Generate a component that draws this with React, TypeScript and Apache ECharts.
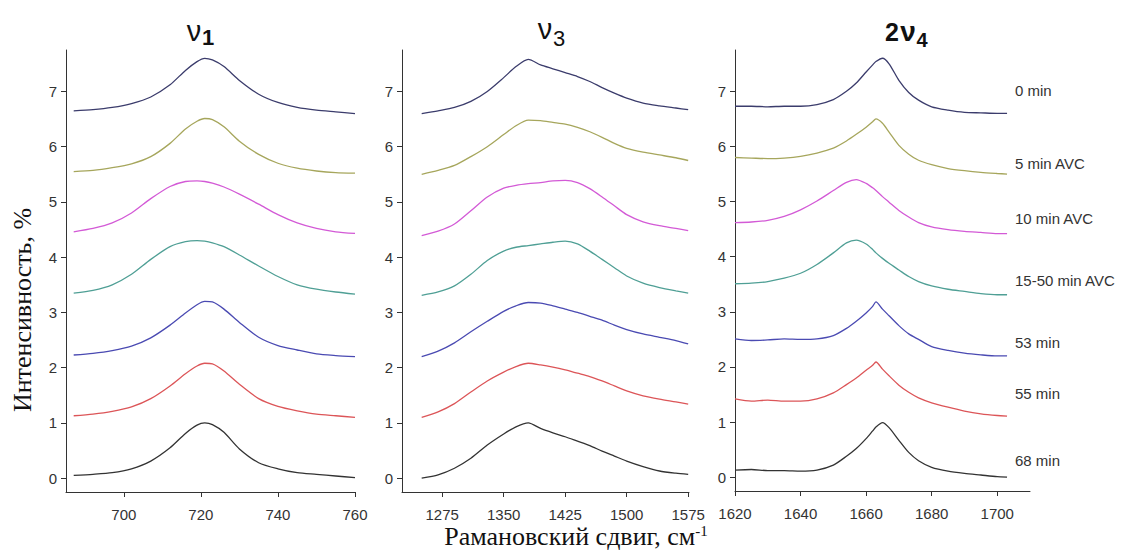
import React, { useEffect, useRef } from "react";
import * as echarts from "echarts";

// ---- categories / labels ----
const seriesNames = ["0 min", "5 min AVC", "10 min AVC", "15-50 min AVC", "53 min", "55 min", "68 min"];
const seriesColors = ["#3b3c6c", "#a6a65c", "#d35ad6", "#4f9f95", "#4a4ab2", "#dc5558", "#333333"];
const yTicks = [0, 1, 2, 3, 4, 5, 6, 7];

// ---- panel ν1 ----
const nu1X = [687, 692, 697, 702, 707, 712, 716, 719, 721, 723, 726, 730, 735, 740, 745, 750, 755, 760];
const nu1Ticks = [700, 720, 740, 760];
const nu1_0min = [6.65, 6.67, 6.71, 6.78, 6.9, 7.12, 7.38, 7.54, 7.6, 7.57, 7.45, 7.2, 6.95, 6.8, 6.71, 6.66, 6.63, 6.6];
const nu1_5min = [5.55, 5.57, 5.62, 5.69, 5.82, 6.06, 6.32, 6.46, 6.51, 6.49, 6.36, 6.1, 5.86, 5.7, 5.61, 5.56, 5.53, 5.52];
const nu1_10min = [4.46, 4.52, 4.62, 4.8, 5.06, 5.28, 5.37, 5.38, 5.37, 5.34, 5.27, 5.14, 4.96, 4.77, 4.62, 4.52, 4.46, 4.43];
const nu1_15min = [3.35, 3.4, 3.5, 3.69, 3.96, 4.19, 4.28, 4.3, 4.29, 4.26, 4.19, 4.04, 3.84, 3.65, 3.5, 3.42, 3.37, 3.33];
const nu1_53min = [2.23, 2.26, 2.31, 2.39, 2.54, 2.77, 2.99, 3.14, 3.2, 3.19, 3.06, 2.82, 2.55, 2.4, 2.32, 2.25, 2.22, 2.2];
const nu1_55min = [1.13, 1.16, 1.21, 1.29, 1.44, 1.67, 1.89, 2.03, 2.08, 2.07, 1.94, 1.7, 1.44, 1.3, 1.22, 1.16, 1.13, 1.1];
const nu1_68min = [0.05, 0.07, 0.1, 0.17, 0.31, 0.55, 0.81, 0.96, 1.0, 0.97, 0.83, 0.53, 0.28, 0.17, 0.1, 0.07, 0.04, 0.01];

// ---- panel ν3 ----
const nu3X = [1250, 1270, 1290, 1310, 1330, 1350, 1365, 1380, 1395, 1410, 1425, 1440, 1455, 1470, 1485, 1500, 1520, 1540, 1560, 1575];
const nu3Ticks = [1275, 1350, 1425, 1500, 1575];
const nu3_0min = [6.6, 6.65, 6.71, 6.82, 7.0, 7.25, 7.45, 7.58, 7.48, 7.41, 7.34, 7.27, 7.18, 7.07, 6.97, 6.88, 6.79, 6.74, 6.7, 6.67];
const nu3_5min = [5.5, 5.57, 5.66, 5.82, 6.0, 6.22, 6.38, 6.48, 6.47, 6.44, 6.41, 6.35, 6.27, 6.17, 6.06, 5.97, 5.9, 5.85, 5.8, 5.75];
const nu3_10min = [4.39, 4.47, 4.6, 4.84, 5.09, 5.25, 5.3, 5.33, 5.35, 5.38, 5.39, 5.35, 5.24, 5.09, 4.93, 4.77, 4.64, 4.57, 4.52, 4.48];
const nu3_15min = [3.31, 3.37, 3.48, 3.69, 3.94, 4.11, 4.18, 4.21, 4.24, 4.27, 4.29, 4.24, 4.11, 3.96, 3.81, 3.66, 3.53, 3.45, 3.39, 3.35];
const nu3_53min = [2.2, 2.3, 2.45, 2.65, 2.84, 3.02, 3.12, 3.18, 3.17, 3.12, 3.06, 3.0, 2.93, 2.86, 2.77, 2.69, 2.61, 2.55, 2.49, 2.43];
const nu3_55min = [1.1, 1.2, 1.35, 1.56, 1.76, 1.92, 2.02, 2.08, 2.05, 2.01, 1.96, 1.9, 1.84, 1.76, 1.67, 1.58, 1.49, 1.43, 1.38, 1.34];
const nu3_68min = [0.0, 0.06, 0.18, 0.36, 0.6, 0.8, 0.93, 1.0, 0.9, 0.82, 0.75, 0.67, 0.59, 0.49, 0.4, 0.31, 0.21, 0.13, 0.09, 0.07];

// ---- panel 2ν4 ----
const nu4X = [1620, 1625, 1630, 1635, 1640, 1645, 1650, 1654, 1657, 1660, 1662, 1663, 1665, 1667, 1670, 1673, 1676, 1680, 1685, 1690, 1695, 1700, 1703];
const nu4Ticks = [1620, 1640, 1660, 1680, 1700];
const nu4_0min = [6.73, 6.73, 6.72, 6.73, 6.73, 6.76, 6.85, 7.0, 7.15, 7.35, 7.48, 7.54, 7.6, 7.5, 7.2, 6.98, 6.84, 6.72, 6.66, 6.62, 6.61, 6.6, 6.6];
const nu4_5min = [5.8, 5.79, 5.78, 5.79, 5.82, 5.88, 5.97, 6.1, 6.22, 6.35, 6.45, 6.5, 6.42, 6.26, 6.02, 5.86, 5.75, 5.67, 5.6, 5.56, 5.53, 5.51, 5.5];
const nu4_10min = [4.62, 4.63, 4.66, 4.73, 4.85, 5.01, 5.2, 5.35, 5.4, 5.33, 5.25, 5.2, 5.09, 4.99, 4.84, 4.72, 4.62, 4.54, 4.49, 4.46, 4.44, 4.42, 4.42];
const nu4_15min = [3.51, 3.52, 3.55, 3.61, 3.7, 3.86, 4.07, 4.25, 4.3, 4.23, 4.13, 4.07, 3.97, 3.88, 3.76, 3.64, 3.55, 3.47, 3.41, 3.37, 3.33, 3.31, 3.31];
const nu4_53min = [2.51, 2.48, 2.49, 2.51, 2.5, 2.51, 2.57, 2.7, 2.83, 2.98, 3.1, 3.18, 3.05, 2.93, 2.75, 2.6, 2.5, 2.37, 2.3, 2.25, 2.22, 2.2, 2.2];
const nu4_55min = [1.42, 1.38, 1.4, 1.38, 1.38, 1.42, 1.53, 1.68, 1.8, 1.94, 2.03, 2.09, 1.96, 1.84, 1.67, 1.54, 1.44, 1.35, 1.27, 1.2, 1.15, 1.12, 1.11];
const nu4_68min = [0.13, 0.14, 0.12, 0.12, 0.11, 0.13, 0.22, 0.38, 0.52, 0.7, 0.84, 0.91, 0.99, 0.9, 0.67, 0.45, 0.3, 0.18, 0.11, 0.07, 0.04, 0.01, 0.0];

const panels = [
  { x: nu1X, ticks: nu1Ticks, min: 685, max: 760, ys: [nu1_0min, nu1_5min, nu1_10min, nu1_15min, nu1_53min, nu1_55min, nu1_68min] },
  { x: nu3X, ticks: nu3Ticks, min: 1226, max: 1576, ys: [nu3_0min, nu3_5min, nu3_10min, nu3_15min, nu3_53min, nu3_55min, nu3_68min] },
  { x: nu4X, ticks: nu4Ticks, min: 1620, max: 1710, ys: [nu4_0min, nu4_5min, nu4_10min, nu4_15min, nu4_53min, nu4_55min, nu4_68min] },
];

const gridBoxes = [
  { left: 66, top: 50, width: 289, height: 442 },
  { left: 402, top: 50, width: 287, height: 442 },
  { left: 735, top: 50, width: 295, height: 441 },
];

const labelY = [90, 163, 218, 280, 342, 393, 460];

const tickFont = "'Liberation Sans', Arial, sans-serif";
const axisColor = "#333";

export default function App() {
  const ref = useRef<HTMLDivElement>(null);
  useEffect(() => {
    if (!ref.current) return;
    const chart = echarts.init(ref.current, undefined, { renderer: "svg" });

    const xAxis = panels.map((p, i) => ({
      type: "value",
      gridIndex: i,
      min: p.min,
      max: p.max,
      axisLine: { show: true, onZero: false, lineStyle: { color: axisColor, width: 1 } },
      axisTick: { show: true, length: 5, customValues: p.ticks, lineStyle: { color: axisColor } },
      axisLabel: {
        customValues: p.ticks, margin: 15, fontSize: 15, fontFamily: tickFont, color: "#333",
        formatter: (v: number) => String(v),
      },
      splitLine: { show: false },
    }));
    const yAxis = panels.map((_, i) => ({
      type: "value",
      gridIndex: i,
      min: -0.25,
      max: 7.75,
      axisLine: { show: true, onZero: false, lineStyle: { color: axisColor, width: 1 } },
      axisTick: { show: true, length: 5, customValues: yTicks, lineStyle: { color: axisColor } },
      axisLabel: {
        customValues: yTicks, margin: 9, fontSize: 15, fontFamily: tickFont, color: "#333",
        formatter: (v: number) => String(v),
      },
      splitLine: { show: false },
    }));

    const series: any[] = [];
    panels.forEach((p, pi) => {
      p.ys.forEach((ys, si) => {
        series.push({
          type: "line",
          name: seriesNames[si],
          xAxisIndex: pi,
          yAxisIndex: pi,
          data: p.x.map((xv, k) => [xv, ys[k]]),
          showSymbol: false,
          smooth: 0.25,
          lineStyle: { color: seriesColors[si], width: 1.3 },
          itemStyle: { color: seriesColors[si] },
        });
      });
    });

    const titleFont = "'Liberation Sans', 'DejaVu Sans', sans-serif";
    const serif = "'Liberation Serif', 'DejaVu Serif', serif";
    const graphics: any[] = [
      // ν1
      { type: "text", x: 194, y: 31, style: { text: "ν", fontSize: 29, fontFamily: titleFont, fill: "#111", textAlign: "center", textVerticalAlign: "middle" } },
      { type: "text", x: 208, y: 37, style: { text: "1", fontSize: 22, fontWeight: "bold", fontFamily: titleFont, fill: "#111", textAlign: "center", textVerticalAlign: "middle" } },
      // ν3
      { type: "text", x: 545, y: 29, style: { text: "ν", fontSize: 29, fontFamily: titleFont, fill: "#111", textAlign: "center", textVerticalAlign: "middle" } },
      { type: "text", x: 559, y: 38, style: { text: "3", fontSize: 22, fontFamily: titleFont, fill: "#111", textAlign: "center", textVerticalAlign: "middle" } },
      // 2ν4
      { type: "text", x: 892, y: 32, style: { text: "2", fontSize: 25, fontWeight: "bold", fontFamily: titleFont, fill: "#111", textAlign: "center", textVerticalAlign: "middle" } },
      { type: "text", x: 908, y: 31, style: { text: "ν", fontSize: 28, fontWeight: "bold", fontFamily: titleFont, fill: "#111", textAlign: "center", textVerticalAlign: "middle" } },
      { type: "text", x: 922, y: 40, style: { text: "4", fontSize: 20, fontWeight: "bold", fontFamily: titleFont, fill: "#111", textAlign: "center", textVerticalAlign: "middle" } },
      // y-axis title
      {
        type: "text", x: 22, y: 310, rotation: Math.PI / 2,
        style: { text: "Интенсивность, %", fontSize: 26, fontFamily: serif, fill: "#111", textAlign: "center", textVerticalAlign: "middle" },
      },
      // x-axis title
      {
        type: "text", x: 576, y: 536,
        style: {
          text: "Рамановский сдвиг, см{sup|-1}",
          fontSize: 26, fontFamily: serif, fill: "#111",
          textAlign: "center", textVerticalAlign: "middle",
          rich: { sup: { fontSize: 15, fontFamily: serif, fill: "#111", verticalAlign: "top", padding: [0, 0, 10, 0] } },
        },
      },
    ];
    seriesNames.forEach((name, i) => {
      graphics.push({
        type: "text", x: 1015, y: labelY[i],
        style: { text: name, fontSize: 15, fontFamily: tickFont, fill: "#333", textAlign: "left", textVerticalAlign: "middle" },
      });
    });

    chart.setOption({
      animation: false,
      backgroundColor: "#fff",
      grid: gridBoxes.map((g) => ({ ...g, containLabel: false })),
      xAxis,
      yAxis,
      series,
      graphic: graphics,
    });
    return () => chart.dispose();
  }, []);
  return <div ref={ref} style={{ position: "fixed", left: 0, top: 0, width: 1126, height: 550 }} />;
}
